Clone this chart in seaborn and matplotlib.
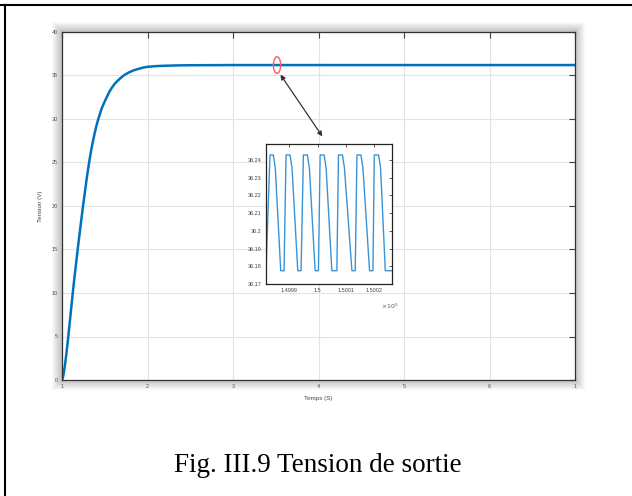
import matplotlib
matplotlib.use("Agg")
import matplotlib.pyplot as plt
import pandas as pd
import seaborn as sns
from matplotlib.patches import Ellipse, Rectangle
from matplotlib.lines import Line2D

# main response
t_main = [1.0, 1.012, 1.023, 1.037, 1.051, 1.066, 1.082, 1.105, 1.129, 1.16, 1.187, 1.218,
          1.246, 1.277, 1.30, 1.322, 1.343, 1.363, 1.383, 1.402, 1.422, 1.441, 1.46, 1.485,
          1.511, 1.535, 1.558, 1.587, 1.617, 1.646, 1.675, 1.705, 1.734, 1.763, 1.792,
          1.84, 1.89, 1.945, 2.0, 2.1, 2.2, 2.35, 2.5, 2.75, 3.0, 4.0, 5.0, 6.0, 7.0]
v_main = [0.0, 0.35, 0.95, 1.9, 3.0, 4.3, 5.8, 8.0, 10.3, 13.0, 15.3, 17.8,
          20.0, 22.3, 23.9, 25.3, 26.5, 27.5, 28.4, 29.2, 29.9, 30.5, 31.1, 31.7,
          32.25, 32.75, 33.2, 33.65, 34.05, 34.35, 34.62, 34.87, 35.08, 35.25, 35.4,
          35.6, 35.75, 35.9, 36.0, 36.08, 36.12, 36.16, 36.18, 36.19, 36.2, 36.2, 36.2, 36.2, 36.2]

x_ticks = [1, 2, 3, 4, 5, 6, 7]
x_tick_labels = ["1", "2", "3", "4", "5", "6", "1"]
y_ticks = [0, 5, 10, 15, 20, 25, 30, 35, 40]

# zoomed ripple (x in units of 1e5 s)
t_zoom = [1.4998177, 1.4998318, 1.4998435, 1.4998505, 1.4998696, 1.4998813,
          1.4998883, 1.4999025, 1.4999095, 1.4999297, 1.4999413,
          1.4999495, 1.4999636, 1.4999707, 1.4999908, 1.5000025,
          1.5000085, 1.5000226, 1.5000297, 1.5000498, 1.5000675,
          1.5000731, 1.5000873, 1.5000943, 1.5001205, 1.5001322,
          1.5001382, 1.5001523, 1.5001594, 1.5001827, 1.5001947,
          1.5001993, 1.5002145, 1.5002216, 1.5002382, 1.5002618]
v_zoom = [36.178, 36.2428, 36.2428, 36.2353, 36.1775, 36.1775,
          36.2428, 36.2428, 36.2353, 36.1775, 36.1775,
          36.2428, 36.2428, 36.2353, 36.1775, 36.1775,
          36.2428, 36.2428, 36.2353, 36.1775, 36.1775,
          36.2428, 36.2428, 36.2353, 36.1775, 36.1775,
          36.2428, 36.2428, 36.2353, 36.1775, 36.1775,
          36.2428, 36.2428, 36.2353, 36.1775, 36.1775]
zoom_x_ticks = [1.4999, 1.5, 1.5001, 1.5002]
zoom_x_labels = ["1.4999", "1.5", "1.5001", "1.5002"]
zoom_y_ticks = [36.17, 36.18, 36.19, 36.2, 36.21, 36.22, 36.23, 36.24]
zoom_y_labels = ["36.17", "36.18", "36.19", "36.2", "36.21", "36.22", "36.23", "36.24"]

caption = "Fig. III.9 Tension de sortie"

sns.set_style("white")
plt.rcParams["font.family"] = ["Liberation Sans", "DejaVu Sans"]

W, H = 632, 496
fig = plt.figure(figsize=(W / 100, H / 100), dpi=100)


def fbox(l, t, r, b):
    return [l / W, 1 - b / H, (r - l) / W, (b - t) / H]


blue = "#0072BD"
tick_col = "#404040"

# soft shadow behind the main axes
for i in range(1, 11):
    rect = fbox(62 - i, 32 - i, 575 + i, 380 + i)
    fig.add_artist(Rectangle((rect[0], rect[1]), rect[2], rect[3], transform=fig.transFigure,
                             facecolor="black", edgecolor="none", alpha=0.022, zorder=-5))

ax = fig.add_axes(fbox(62, 32, 575, 380))
ax.set_facecolor("white")
df_main = pd.DataFrame({"t": t_main, "v": v_main})
sns.lineplot(data=df_main, x="t", y="v", ax=ax, color=blue, linewidth=1.8, sort=False)
ax.set_xlim(1, 7)
ax.set_ylim(0, 40)
ax.set_xticks(x_ticks)
ax.set_xticklabels(x_tick_labels)
ax.set_yticks(y_ticks)
ax.grid(True, color="#e3e3e3", linewidth=0.8)
ax.tick_params(direction="in", length=4, width=0.8, colors=tick_col, labelsize=4,
               top=True, right=True, labelcolor="#555555", pad=3)
for s in ax.spines.values():
    s.set_color("#333333")
    s.set_linewidth(0.9)
ax.set_xlabel("Temps (S)", fontsize=4.5, color="#444444", labelpad=5)
ax.set_ylabel("Tension (V)", fontsize=4.5, color="#444444", labelpad=6)

# marker on the curve and arrow to the zoom
ax.add_patch(Ellipse((3.515, 36.2), 0.085, 1.9, fill=False, edgecolor="#ff5a5a", linewidth=1.0, zorder=5))
ax.annotate("", xy=(3.555, 35.1), xytext=(4.045, 28.0),
            arrowprops=dict(arrowstyle="<|-|>", color="#333333", lw=0.9, mutation_scale=7,
                            shrinkA=0, shrinkB=0))

# inset with the ripple
axi = fig.add_axes(fbox(266, 144, 392, 284))
axi.set_facecolor("white")
df_zoom = pd.DataFrame({"t": t_zoom, "v": v_zoom})
sns.lineplot(data=df_zoom, x="t", y="v", ax=axi, color="#3a93d6", linewidth=1.0, sort=False)
axi.set_xlim(1.4998177, 1.5002618)
axi.set_ylim(36.17, 36.249)
axi.set_xticks(zoom_x_ticks)
axi.set_xticklabels(zoom_x_labels)
axi.set_yticks(zoom_y_ticks)
axi.set_yticklabels(zoom_y_labels)
axi.tick_params(direction="in", length=2.5, width=0.6, colors=tick_col, labelsize=4,
                top=True, right=True, labelcolor="#444444", pad=3)
axi.set_xlabel("")
axi.set_ylabel("")
for s in axi.spines.values():
    s.set_color("#222222")
    s.set_linewidth(0.9)
fig.text(381 / W, 1 - 309 / H, r"$\times10^5$", fontsize=4.5, color="#555555")

# document frame lines
fig.add_artist(Line2D([0, 1], [1 - 4.5 / H, 1 - 4.5 / H], transform=fig.transFigure, color="black", lw=1.5))
fig.add_artist(Line2D([4.5 / W, 4.5 / W], [0, 1 - 4.5 / H], transform=fig.transFigure, color="black", lw=1.5))

fig.text(318 / W, 1 - 466 / H, caption, fontsize=19.5, family=["Liberation Serif", "DejaVu Serif"],
         ha="center", va="center", color="black")

fig.savefig("out.png", dpi=100)
